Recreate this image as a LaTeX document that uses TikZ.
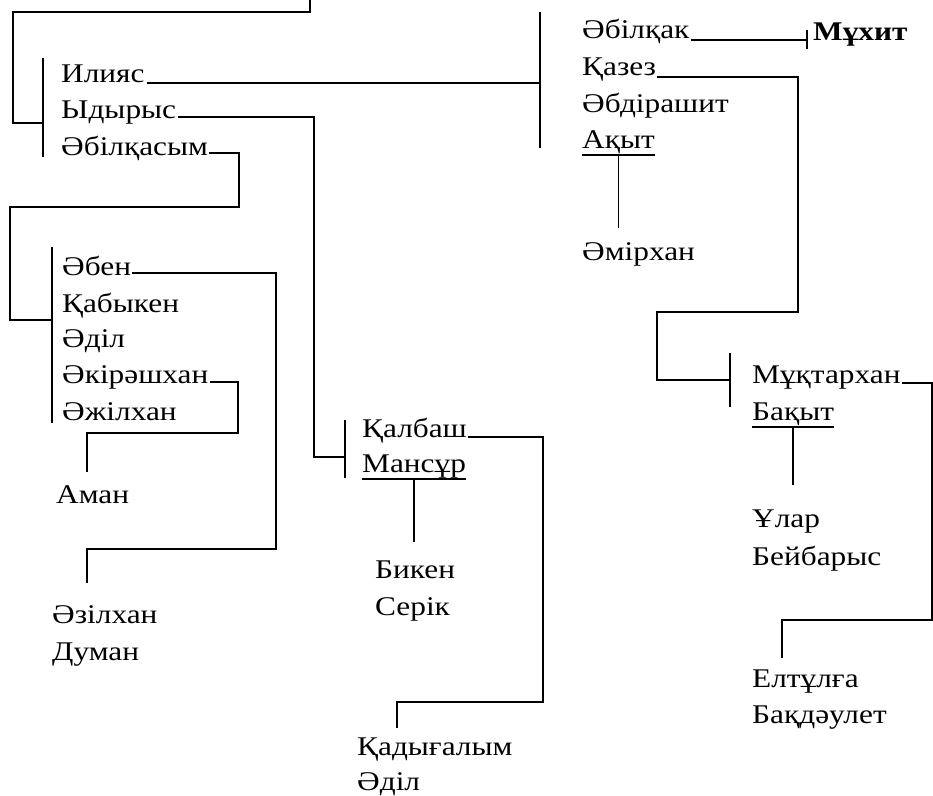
\documentclass[tikz,border=0pt]{standalone}
\usepackage{fontspec}
\setmainfont{Liberation Serif}[FakeStretch=1.16]
\begin{document}
\begin{tikzpicture}[x=1pt,y=-1pt,
  nm/.style={anchor=base west,inner sep=0pt,font=\fontsize{27}{31}\selectfont},
  ln/.style={line width=1.6pt,line join=miter}]
\useasboundingbox (0,0) rectangle (933,795);
% ---------- names ----------
\node[nm] (ilyas) at (61,82) {Илияс};
\node[nm] (ydyrys) at (61,118) {Ыдырыс};
\node[nm] (abilkasym) at (61,155) {Әбілқасым};
\node[nm] (abilkak) at (582,38) {Әбілқак};
\node[nm,font=\fontsize{27}{31}\selectfont\bfseries] (mukhit) at (813,40) {Мұхит};
\node[nm] (kazez) at (582,75) {Қазез};
\node[nm] (abdirashit) at (582,112) {Әбдірашит};
\node[nm] (akyt) at (582,148) {Ақыт};
\node[nm] (amirkhan) at (582,260) {Әмірхан};
\node[nm] (muktarkhan) at (752,383) {Мұқтархан};
\node[nm] (bakyt) at (752,420) {Бақыт};
\node[nm] (ular) at (752,527) {Ұлар};
\node[nm] (beibarys) at (752,565) {Бейбарыс};
\node[nm] (eltulga) at (752,687) {Елтұлға};
\node[nm] (bakdaulet) at (752,723) {Бақдәулет};
\node[nm] (aben) at (62,275) {Әбен};
\node[nm] (kabyken) at (62,312) {Қабыкен};
\node[nm] (adil) at (62,347) {Әділ};
\node[nm] (akirash) at (62,383) {Әкірәшхан};
\node[nm] (azhilkhan) at (62,420) {Әжілхан};
\node[nm] (aman) at (56,503) {Аман};
\node[nm] (azilkhan) at (52,623) {Әзілхан};
\node[nm] (duman) at (52,660) {Думан};
\node[nm] (kalbash) at (362,437) {Қалбаш};
\node[nm] (mansur) at (362,472) {Мансұр};
\node[nm] (biken) at (375,578) {Бикен};
\node[nm] (serik) at (375,615) {Серік};
\node[nm] (kadygalym) at (357,755) {Қадығалым};
\node[nm] (adil2) at (357,790) {Әділ};
% ---------- brackets ----------
\coordinate (bA1) at (43,58);  \coordinate (bA2) at (43,157);
\coordinate (bB1) at (540,12); \coordinate (bB2) at (540,148);
\coordinate (bC1) at (730,353); \coordinate (bC2) at (730,407);
\coordinate (bD1) at (345,420); \coordinate (bD2) at (345,478);
\coordinate (bE1) at (52,247); \coordinate (bE2) at (52,423);
\coordinate (tick1) at (807,30); \coordinate (tick2) at (807,49);
\draw[ln] (bA1) -- (bA2);
\draw[ln] (bB1) -- (bB2);
\draw[ln] (bC1) -- (bC2);
\draw[ln] (bD1) -- (bD2);
\draw[ln] (bE1) -- (bE2);
\draw[ln] (tick1) -- (tick2);
% ---------- connectors ----------
\coordinate (top) at (310,0);
\draw[ln] (top) -- (310,12) -- (13,12) -- (13,123) -- (bA1 |- 0,123);
\draw[ln] ([xshift=2pt,yshift=-1pt]ilyas.base east) -- (bB1 |- 0,83);
\draw[ln] ([xshift=2pt,yshift=1pt]ydyrys.base east) -- (314,117) -- (314,457) -- (bD1 |- 0,457);
\draw[ln] ([xshift=1pt,yshift=2pt]abilkasym.base east) -- (239,153) -- (239,207) -- (10,207) -- (10,320) -- (bE1 |- 0,320);
\draw[ln] ([xshift=1pt,yshift=-2pt]abilkak.base east) -- (tick1 |- 0,40);
\draw[ln] ([xshift=1pt,yshift=-2pt]kazez.base east) -- (798,77) -- (798,312) -- (657,312) -- (657,380) -- (bC1 |- 0,380);
\draw[ln] ([yshift=-7pt]akyt.base west) -- ([yshift=-7pt]akyt.base east);
\coordinate (akytdrop) at (0,228);
\draw[ln] ([yshift=-7pt]akyt.base) -- (akyt.base |- akytdrop);
\draw[ln] ([xshift=1pt]muktarkhan.base east) -- (932,383) -- (932,620) -- (782,620) -- (782,658);
\draw[ln] ([yshift=-7pt]bakyt.base west) -- ([yshift=-7pt]bakyt.base east);
\coordinate (bakytdrop) at (0,485);
\draw[ln] ([yshift=-7pt]bakyt.base) -- (bakyt.base |- bakytdrop);
\draw[ln] ([xshift=1pt,yshift=2pt]aben.base east) -- (276,273) -- (276,549) -- (87,549) -- (87,583);
\draw[ln] ([xshift=1pt,yshift=1pt]akirash.base east) -- (238,382) -- (238,433) -- (87,433) -- (87,472);
\draw[ln] ([xshift=1pt]kalbash.base east) -- (543,437) -- (543,702) -- (397,702) -- (397,728);
\draw[ln] ([yshift=-7pt]mansur.base west) -- ([yshift=-7pt]mansur.base east);
\coordinate (mansurdrop) at (0,542);
\draw[ln] ([yshift=-7pt]mansur.base) -- (mansur.base |- mansurdrop);
\end{tikzpicture}
\end{document}
